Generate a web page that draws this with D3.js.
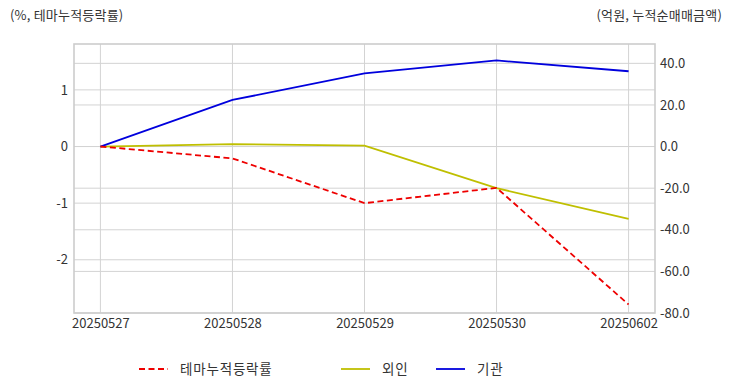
<!DOCTYPE html>
<html>
<head>
<meta charset="utf-8">
<script src="https://cdn.jsdelivr.net/npm/d3@7"></script>
<style>
  body { margin: 0; background: #fff; }
  svg text { font-family: "Noto Sans CJK KR", "Noto Sans", sans-serif; fill: #333; }
</style>
</head>
<body>
<div id="canvas"></div>
<script>
// data
let dates = ["20250527", "20250528", "20250529", "20250530", "20250602"];
let themeRate = [0, -0.21, -1.0, -0.73, -2.79];      // %, left axis
let foreignAmt = [0, 1.2, 0.5, -20.0, -34.7];        // 억원, right axis
let instAmt = [0, 22.4, 35.2, 41.4, 36.2];           // 억원, right axis
let leftTicks = [-2, -1, 0, 1];
let rightTicks = [-80, -60, -40, -20, 0, 20, 40];

let width = 732, height = 392;
let plotLeft = 74, plotRight = 655, plotTop = 44, plotBottom = 313;
let fontStack = '"Noto Sans CJK KR", "Noto Sans", sans-serif';

let drawing = d3.select("#canvas")
    .append("svg")
    .attr("width", width)
    .attr("height", height);

let x = d3.scalePoint().domain(dates).range([plotLeft, plotRight]).padding(0.2);
let yL = d3.scaleLinear().domain([-2.94, 1.81]).range([plotBottom, plotTop]);
let yR = d3.scaleLinear().domain([-80, 49.3]).range([plotBottom, plotTop]);

// grid lines
let grid = drawing.append("g").attr("stroke", "#d3d3d3").attr("stroke-width", 1);
leftTicks.forEach(t => {
    grid.append("line").attr("x1", plotLeft).attr("x2", plotRight)
        .attr("y1", yL(t)).attr("y2", yL(t));
});
rightTicks.forEach(t => {
    grid.append("line").attr("x1", plotLeft).attr("x2", plotRight)
        .attr("y1", yR(t)).attr("y2", yR(t));
});
dates.forEach(d => {
    grid.append("line").attr("x1", x(d)).attr("x2", x(d))
        .attr("y1", plotTop).attr("y2", plotBottom);
});

// frame
drawing.append("rect")
    .attr("x", plotLeft).attr("y", plotTop)
    .attr("width", plotRight - plotLeft).attr("height", plotBottom - plotTop)
    .attr("fill", "none").attr("stroke", "#cccccc").attr("stroke-width", 1.6);

// axes (plain hyphen for negatives, like the original)
let hyphen = f => (d => f(d).replace("−", "-"));
let axL = drawing.append("g").attr("transform", `translate(${plotLeft},0)`)
    .call(d3.axisLeft(yL).tickValues(leftTicks).tickSize(0).tickPadding(6)
        .tickFormat(hyphen(d3.format("d"))));
let axR = drawing.append("g").attr("transform", `translate(${plotRight},0)`)
    .call(d3.axisRight(yR).tickValues(rightTicks).tickSize(0).tickPadding(5)
        .tickFormat(hyphen(d3.format(".1f"))));
let axB = drawing.append("g").attr("transform", `translate(0,${plotBottom})`)
    .call(d3.axisBottom(x).tickSize(0).tickPadding(6));
[axL, axR, axB].forEach(a => {
    a.select(".domain").remove();
    a.selectAll("text").attr("font-size", 13).attr("fill", "#333")
        .attr("font-family", fontStack);
});

// lines
let lineL = d3.line().x((d, i) => x(dates[i])).y(d => yL(d));
let lineR = d3.line().x((d, i) => x(dates[i])).y(d => yR(d));

drawing.append("path").datum(foreignAmt)
    .attr("d", lineR).attr("fill", "none")
    .attr("stroke", "#bfbf00").attr("stroke-width", 1.8);
drawing.append("path").datum(instAmt)
    .attr("d", lineR).attr("fill", "none")
    .attr("stroke", "#0000dd").attr("stroke-width", 1.8);
drawing.append("path").datum(themeRate)
    .attr("d", lineL).attr("fill", "none")
    .attr("stroke", "#ee0000").attr("stroke-width", 1.8)
    .attr("stroke-dasharray", "6,3.5");

// axis titles
drawing.append("text").attr("x", 10).attr("y", 20)
    .attr("font-size", 13).attr("letter-spacing", 0.2).text("(%, 테마누적등락률)");
drawing.append("text").attr("x", 722).attr("y", 20)
    .attr("text-anchor", "end").attr("font-size", 13).attr("letter-spacing", 0.2)
    .text("(억원, 누적순매매금액)");

// legend
let legendItems = [
    {name: "테마누적등락률", color: "#ee0000", dash: "6,3.5", x: 139},
    {name: "외인", color: "#bfbf00", dash: null, x: 341},
    {name: "기관", color: "#0000dd", dash: null, x: 436}
];
legendItems.forEach(it => {
    drawing.append("line")
        .attr("x1", it.x).attr("x2", it.x + 29)
        .attr("y1", 369).attr("y2", 369)
        .attr("stroke", it.color).attr("stroke-width", 1.8)
        .attr("stroke-dasharray", it.dash);
    drawing.append("text")
        .attr("x", it.x + 41).attr("y", 374)
        .attr("font-size", 13.5).attr("letter-spacing", 0.8).text(it.name);
});
</script>
</body>
</html>
